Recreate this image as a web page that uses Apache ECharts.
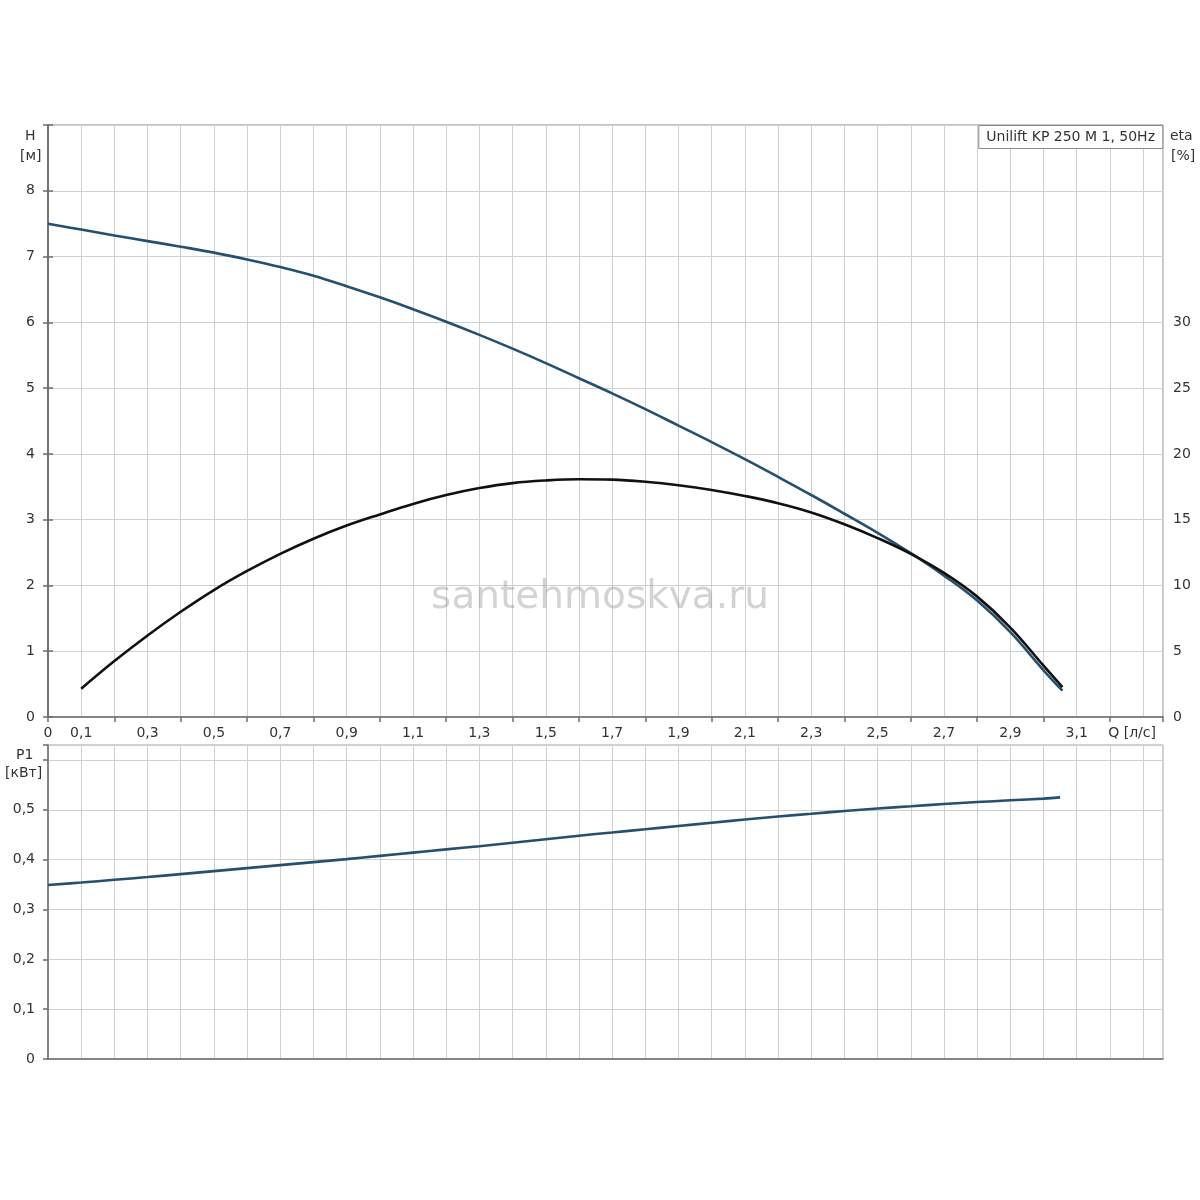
<!DOCTYPE html>
<html>
<head>
<meta charset="utf-8">
<title>Unilift KP 250 M 1, 50Hz</title>
<script src="https://cdn.jsdelivr.net/npm/echarts/dist/echarts.min.js"></script>
<style>
  html, body { margin: 0; padding: 0; background: #fff; }
  #chart { width: 1200px; height: 1200px; }
</style>
</head>
<body>
<div id="chart"></div>
<script>
// значения (Q в л/с)
var qHead = [0, 0.1, 0.2, 0.3, 0.4, 0.5, 0.6, 0.7, 0.8, 0.9, 1.0, 1.1, 1.2, 1.3, 1.4, 1.5,
  1.6, 1.7, 1.8, 1.9, 2.0, 2.1, 2.2, 2.3, 2.4, 2.5, 2.6, 2.7, 2.8, 2.9, 3.0, 3.057];
var headH = [7.50, 7.41, 7.32, 7.235, 7.15, 7.06, 6.955, 6.84, 6.71, 6.55, 6.38, 6.20, 6.01,
  5.81, 5.60, 5.38, 5.15, 4.92, 4.68, 4.43, 4.18, 3.92, 3.65, 3.375, 3.09, 2.80, 2.49, 2.15,
  1.77, 1.29, 0.71, 0.40];

var qEta = [0.1, 0.2, 0.3, 0.4, 0.5, 0.6, 0.7, 0.8, 0.9, 1.0, 1.1, 1.2, 1.3, 1.4, 1.5,
  1.6, 1.7, 1.8, 1.9, 2.0, 2.1, 2.2, 2.3, 2.4, 2.5, 2.6, 2.7, 2.8, 2.9, 3.0, 3.057];
var etaPct = [2.15, 4.25, 6.2, 8.0, 9.65, 11.1, 12.4, 13.55, 14.55, 15.4, 16.2, 16.87, 17.4,
  17.78, 17.98, 18.07, 18.04, 17.88, 17.62, 17.26, 16.8, 16.25, 15.55, 14.65, 13.6, 12.4,
  10.95, 9.15, 6.8, 3.9, 2.27];

var qPower = [0, 0.1, 0.2, 0.3, 0.4, 0.5, 0.6, 0.7, 0.8, 0.9, 1.0, 1.1, 1.2, 1.3, 1.4, 1.5,
  1.6, 1.7, 1.8, 1.9, 2.0, 2.1, 2.2, 2.3, 2.4, 2.5, 2.6, 2.7, 2.8, 2.9, 3.0, 3.05];
var powerP1 = [0.349, 0.354, 0.3595, 0.365, 0.371, 0.377, 0.383, 0.389, 0.395, 0.401, 0.4075,
  0.414, 0.4205, 0.427, 0.434, 0.441, 0.448, 0.4545, 0.461, 0.4675, 0.474, 0.4805, 0.4865,
  0.492, 0.4975, 0.5025, 0.507, 0.5115, 0.5155, 0.519, 0.5225, 0.525];

// подписи осей
var headTicks = [0, 1, 2, 3, 4, 5, 6, 7, 8];
var etaTicks = [0, 5, 10, 15, 20, 25, 30];
var powerTicks = [0, 0.1, 0.2, 0.3, 0.4, 0.5];
var qLabelTenths = [0, 1, 3, 5, 7, 9, 11, 13, 15, 17, 19, 21, 23, 25, 27, 29, 31];
var qAxisName = "Q [л/с]";
var pumpName = "Unilift KP 250 M 1, 50Hz";
var watermark = "santehmoskva.ru";

var FONT = "'DejaVu Sans', Verdana, sans-serif";
var LINE_BLUE = "#25506f";
var AXIS_DARK = "#6e6e6e";
var GRID_GREY = "#d0d0d0";

function comma(v, digits) {
  if (v === 0) return "0";
  return v.toFixed(digits).replace(".", ",");
}

function pairs(xs, ys) {
  return xs.map(function (x, i) {
    return [x, ys[i]];
  });
}

function isTick(list, v) {
  return list.some(function (t) {
    return Math.abs(t - v) < 1e-6;
  });
}

// подпись оси как отдельный текст
function nameText(text, left, top) {
  return {
    type: "text",
    left: left,
    top: top,
    style: { text: text, font: "14px " + FONT, fill: "#333" },
  };
}

var labelStyle = { fontFamily: FONT, fontSize: 14, color: "#333" };

var chart = echarts.init(document.getElementById("chart"));
var options = {
  animation: false,
  backgroundColor: "#fff",
  title: {
    text: pumpName,
    right: 37,
    top: 125,
    padding: [5, 8, 5, 8],
    borderColor: "#8a8a8a",
    borderWidth: 1,
    backgroundColor: "#fff",
    textStyle: { fontFamily: FONT, fontSize: 14, fontWeight: "normal", color: "#333" },
    z: 10,
  },
  grid: [
    { left: 48, right: 37, top: 125, height: 592, show: true, borderColor: "#8a8a8a", outerBoundsMode: "none", containLabel: false },
    { left: 48, right: 37, top: 745, height: 314, show: true, borderColor: "#a0a0a0", outerBoundsMode: "none", containLabel: false },
  ],
  xAxis: [
    {
      // сетка и подписи Q
      type: "value",
      gridIndex: 0,
      position: "bottom",
      min: 0,
      max: 3.36,
      interval: 0.1,
      axisLine: { show: true, lineStyle: { color: AXIS_DARK, width: 1.5 } },
      axisTick: { show: false },
      splitLine: { show: true, lineStyle: { color: GRID_GREY, width: 1 } },
      axisLabel: Object.assign({}, labelStyle, {
        margin: 9,
        showMinLabel: true,
        showMaxLabel: true,
        formatter: function (v) {
          var t = Math.round(v * 10);
          if (Math.abs(v * 10 - t) > 1e-6) return "";
          if (t === 33) return "{q|" + qAxisName + "}";
          if (qLabelTenths.indexOf(t) >= 0) return comma(t / 10, t === 0 ? 0 : 1);
          return "";
        },
        rich: { q: { fontFamily: FONT, fontSize: 14, color: "#333", padding: [0, 22, 0, 0] } },
      }),
    },
    {
      // только засечки через 0,2
      type: "value",
      gridIndex: 0,
      position: "bottom",
      min: 0,
      max: 3.36,
      interval: 0.2,
      axisLine: { show: false },
      axisTick: { show: true, inside: false, length: 5, lineStyle: { color: AXIS_DARK, width: 1.5 } },
      splitLine: { show: false },
      axisLabel: { show: false },
    },
    {
      type: "value",
      gridIndex: 1,
      position: "bottom",
      min: 0,
      max: 3.36,
      interval: 0.1,
      axisLine: { show: true, lineStyle: { color: AXIS_DARK, width: 1.5 } },
      axisTick: { show: false },
      splitLine: { show: true, lineStyle: { color: GRID_GREY, width: 1 } },
      axisLabel: { show: false },
    },
  ],
  yAxis: [
    {
      type: "value",
      gridIndex: 0,
      position: "left",
      min: 0,
      max: 9,
      interval: 1,
      axisLine: { show: true, lineStyle: { color: AXIS_DARK, width: 1.5 } },
      axisTick: { show: true, length: 5, lineStyle: { color: AXIS_DARK, width: 1.5 } },
      splitLine: { show: true, lineStyle: { color: GRID_GREY, width: 1 } },
      axisLabel: Object.assign({}, labelStyle, {
        margin: 13,
        formatter: function (v) {
          return isTick(headTicks, v) ? String(v) : "";
        },
      }),
    },
    {
      type: "value",
      gridIndex: 0,
      position: "right",
      min: 0,
      max: 45,
      interval: 5,
      axisLine: { show: true, lineStyle: { color: AXIS_DARK, width: 1.5 } },
      axisTick: { show: true, length: 5, lineStyle: { color: AXIS_DARK, width: 1.5 } },
      splitLine: { show: false },
      axisLabel: Object.assign({}, labelStyle, {
        margin: 10,
        formatter: function (v) {
          return isTick(etaTicks, v) ? String(v) : "";
        },
      }),
    },
    {
      type: "value",
      gridIndex: 1,
      position: "left",
      min: 0,
      max: 0.63,
      interval: 0.1,
      axisLine: { show: true, lineStyle: { color: AXIS_DARK, width: 1.5 } },
      axisTick: { show: true, length: 5, lineStyle: { color: AXIS_DARK, width: 1.5 } },
      splitLine: { show: true, lineStyle: { color: GRID_GREY, width: 1 } },
      axisLabel: Object.assign({}, labelStyle, {
        margin: 13,
        formatter: function (v) {
          return isTick(powerTicks, v) ? comma(v, 1) : "";
        },
      }),
    },
  ],
  graphic: [
    nameText("H", 25, 129),
    nameText("[м]", 20, 149),
    nameText("eta", 1170, 129),
    nameText("[%]", 1171, 149),
    nameText("P1", 16, 748),
    nameText("[кВт]", 5, 766),
    {
      type: "text",
      left: "center",
      top: 578,
      z: 50,
      silent: true,
      style: { text: watermark, font: "39px 'DejaVu Sans', sans-serif", fill: "rgba(150,150,150,0.42)" },
    },
  ],
  series: [
    {
      name: "H",
      type: "line",
      xAxisIndex: 0,
      yAxisIndex: 0,
      data: pairs(qHead, headH),
      smooth: 0.4,
      symbol: "none",
      lineStyle: { color: LINE_BLUE, width: 2.6 },
      emphasis: { disabled: true },
      z: 3,
    },
    {
      name: "eta",
      type: "line",
      xAxisIndex: 0,
      yAxisIndex: 1,
      data: pairs(qEta, etaPct),
      smooth: 0.4,
      symbol: "none",
      lineStyle: { color: "#111", width: 2.6 },
      emphasis: { disabled: true },
      z: 4,
    },
    {
      name: "P1",
      type: "line",
      xAxisIndex: 2,
      yAxisIndex: 2,
      data: pairs(qPower, powerP1),
      smooth: 0.4,
      symbol: "none",
      lineStyle: { color: LINE_BLUE, width: 2.6 },
      emphasis: { disabled: true },
      z: 3,
    },
  ],
};
chart.setOption(options);
</script>
</body>
</html>
